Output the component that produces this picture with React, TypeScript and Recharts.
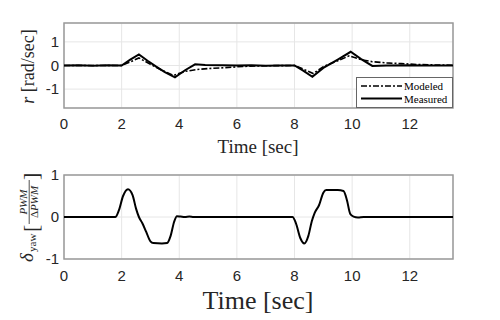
import React from 'react';
import { CartesianGrid, Legend, Line, LineChart, ReferenceArea, XAxis, YAxis } from 'recharts';

// yaw rate, measured vs modeled
const timeMeasured = [0, 0.5, 1, 1.5, 2.0, 2.3, 2.6, 2.9, 3.2, 3.5, 3.85, 4.2, 4.55, 4.9, 5.5, 6, 6.5, 7, 7.5, 8.0, 8.3, 8.62, 9.0, 9.5, 9.95, 10.3, 10.7, 11.2, 12, 12.5, 13, 13.5];
const rMeasured = [0, 0.01, -0.01, 0.01, 0, 0.25, 0.47, 0.2, -0.05, -0.28, -0.5, -0.2, 0.05, 0.02, 0.01, 0, 0.01, -0.01, 0, 0, -0.22, -0.48, -0.1, 0.25, 0.58, 0.28, -0.02, 0, 0.01, 0, 0, 0];

const timeModeled = [0, 2.0, 2.3, 2.6, 3.0, 3.4, 3.8, 4.2, 4.6, 5.0, 5.6, 6.2, 7, 8.0, 8.3, 8.65, 9.0, 9.5, 9.9, 10.3, 10.7, 11.2, 11.7, 12.3, 13, 13.5];
const rModeled = [0, 0, 0.15, 0.32, 0.05, -0.2, -0.42, -0.25, -0.17, -0.13, -0.09, -0.04, -0.01, 0, -0.15, -0.34, -0.05, 0.2, 0.41, 0.25, 0.16, 0.11, 0.08, 0.04, 0.02, 0.01];

// yaw command
const timeDelta = [0, 1.78, 1.9, 2.05, 2.22, 2.38, 2.5, 2.6, 2.72, 2.85, 3.0, 3.1, 3.4, 3.58, 3.7, 3.82, 3.92, 4.05, 4.2, 4.35, 4.5, 7.93, 8.05, 8.2, 8.34, 8.48, 8.6, 8.7, 8.85, 9.0, 9.1, 9.5, 9.7, 9.82, 9.93, 10.05, 10.2, 10.4, 13.5];
const deltaYaw = [0, 0, 0.15, 0.5, 0.66, 0.52, 0.2, 0, -0.15, -0.35, -0.58, -0.62, -0.63, -0.62, -0.45, -0.12, 0.02, 0.01, 0, 0.01, 0, 0, -0.15, -0.5, -0.63, -0.45, -0.1, 0.1, 0.28, 0.58, 0.64, 0.64, 0.62, 0.4, 0.08, 0.01, -0.01, 0, 0];

const timeTicks = [0, 2, 4, 6, 8, 10, 12];
const valueTicks = [-1, 0, 1];
const seriesNames = ['Modeled', 'Measured'];

const measuredData = timeMeasured.map((t, i) => ({ t, r: rMeasured[i] }));
const modeledData = timeModeled.map((t, i) => ({ t, r: rModeled[i] }));
const deltaData = timeDelta.map((t, i) => ({ t, d: deltaYaw[i] }));

const tickFont = { fontSize: 15, fill: '#262626', fontFamily: '"Liberation Sans", Arial, sans-serif' };
const serif = '"Liberation Serif", "Times New Roman", serif';
const dashes: Record<string, string | undefined> = { Modeled: '6 2 2 2', Measured: undefined };

const LegendBox = () => (
    <svg width={97} height={31} style={{ display: 'block' }}>
        <rect x={0.5} y={0.5} width={96} height={30} fill="#fff" stroke="#666" />
        {seriesNames.map((name, i) => (
            <g key={name}>
                <line
                    x1={5}
                    x2={46}
                    y1={9 + i * 12.5}
                    y2={9 + i * 12.5}
                    stroke="#000"
                    strokeWidth={name === 'Measured' ? 2 : 1.6}
                    strokeDasharray={dashes[name]}
                />
                <text x={48} y={13 + i * 12.5} fontSize={11} fontFamily={serif} fill="#000">
                    {name}
                </text>
            </g>
        ))}
    </svg>
);

export default function App() {
    return (
        <div style={{ position: 'absolute', left: 0, top: 0, width: 500, height: 320, background: '#fff' }}>
            <div style={{ position: 'absolute', left: 0, top: 0 }}>
                <LineChart width={500} height={160} margin={{ top: 23, right: 47, left: 24, bottom: 22 }}>
                    <CartesianGrid stroke="#e6e6e6" />
                    <XAxis
                        type="number"
                        dataKey="t"
                        domain={[0, 13.5]}
                        ticks={timeTicks}
                        allowDataOverflow
                        height={30}
                        tickSize={0}
                        tickMargin={10}
                        axisLine={false}
                        tick={tickFont}
                    />
                    <YAxis
                        type="number"
                        domain={[-1.8, 1.8]}
                        ticks={valueTicks}
                        allowDataOverflow
                        width={40}
                        tickSize={0}
                        tickMargin={5}
                        axisLine={false}
                        tick={tickFont}
                    />
                    <ReferenceArea x1={0} x2={13.5} y1={-1.8} y2={1.8} fill="none" stroke="#9a9a9a" strokeWidth={1.5} ifOverflow="visible" />
                    <Line
                        data={modeledData}
                        dataKey="r"
                        name="Modeled"
                        type="linear"
                        stroke="#000"
                        strokeWidth={1.6}
                        strokeDasharray="6 2 2 2"
                        dot={false}
                        isAnimationActive={false}
                    />
                    <Line
                        data={measuredData}
                        dataKey="r"
                        name="Measured"
                        type="linear"
                        stroke="#000"
                        strokeWidth={2}
                        dot={false}
                        isAnimationActive={false}
                    />
                    <Legend
                        layout="horizontal"
                        verticalAlign="middle"
                        align="center"
                        wrapperStyle={{ left: 356, top: 77, width: 97, height: 31 }}
                        content={() => <LegendBox />}
                    />
                </LineChart>
            </div>
            <div style={{ position: 'absolute', left: 0, top: 160 }}>
                <LineChart width={500} height={160} margin={{ top: 15, right: 47, left: 24, bottom: 31 }}>
                    <CartesianGrid stroke="#e6e6e6" />
                    <XAxis
                        type="number"
                        dataKey="t"
                        domain={[0, 13.5]}
                        ticks={timeTicks}
                        allowDataOverflow
                        height={30}
                        tickSize={0}
                        tickMargin={11}
                        axisLine={false}
                        tick={tickFont}
                    />
                    <YAxis
                        type="number"
                        domain={[-1, 1]}
                        ticks={valueTicks}
                        allowDataOverflow
                        width={40}
                        tickSize={0}
                        tickMargin={5}
                        axisLine={false}
                        tick={tickFont}
                    />
                    <ReferenceArea x1={0} x2={13.5} y1={-1} y2={1} fill="none" stroke="#9a9a9a" strokeWidth={1.5} ifOverflow="visible" />
                    <Line
                        data={deltaData}
                        dataKey="d"
                        type="monotone"
                        stroke="#000"
                        strokeWidth={2}
                        dot={false}
                        isAnimationActive={false}
                    />
                </LineChart>
            </div>
            <svg width={500} height={320} style={{ position: 'absolute', left: 0, top: 0, pointerEvents: 'none' }}>
                <g fontFamily={serif} fill="#262626">
                    <text x={258} y={152.5} fontSize={19} textAnchor="middle">Time [sec]</text>
                    <text x={258} y={309} fontSize={26} textAnchor="middle">Time [sec]</text>
                    <text transform="translate(34, 66.5) rotate(-90)" fontSize={18} textAnchor="middle">
                        <tspan fontStyle="italic">r</tspan> [rad/sec]
                    </text>
                    <g transform="translate(33, 262) rotate(-90)">
                        <text x={0} y={0} fontSize={19} fontStyle="italic">δ</text>
                        <text x={10} y={3} fontSize={11}>yaw</text>
                        <text x={30} y={5} fontSize={22}>[</text>
                        <text x={60} y={-6.5} fontSize={11} fontStyle="italic" textAnchor="middle">PWM</text>
                        <line x1={38} x2={82} y1={-3.8} y2={-3.8} stroke="#262626" strokeWidth={0.8} />
                        <text x={60} y={4.5} fontSize={11} textAnchor="middle">
                            Δ<tspan fontStyle="italic">PWM</tspan>
                        </text>
                        <text x={82} y={5} fontSize={22}>]</text>
                    </g>
                </g>
            </svg>
        </div>
    );
}
